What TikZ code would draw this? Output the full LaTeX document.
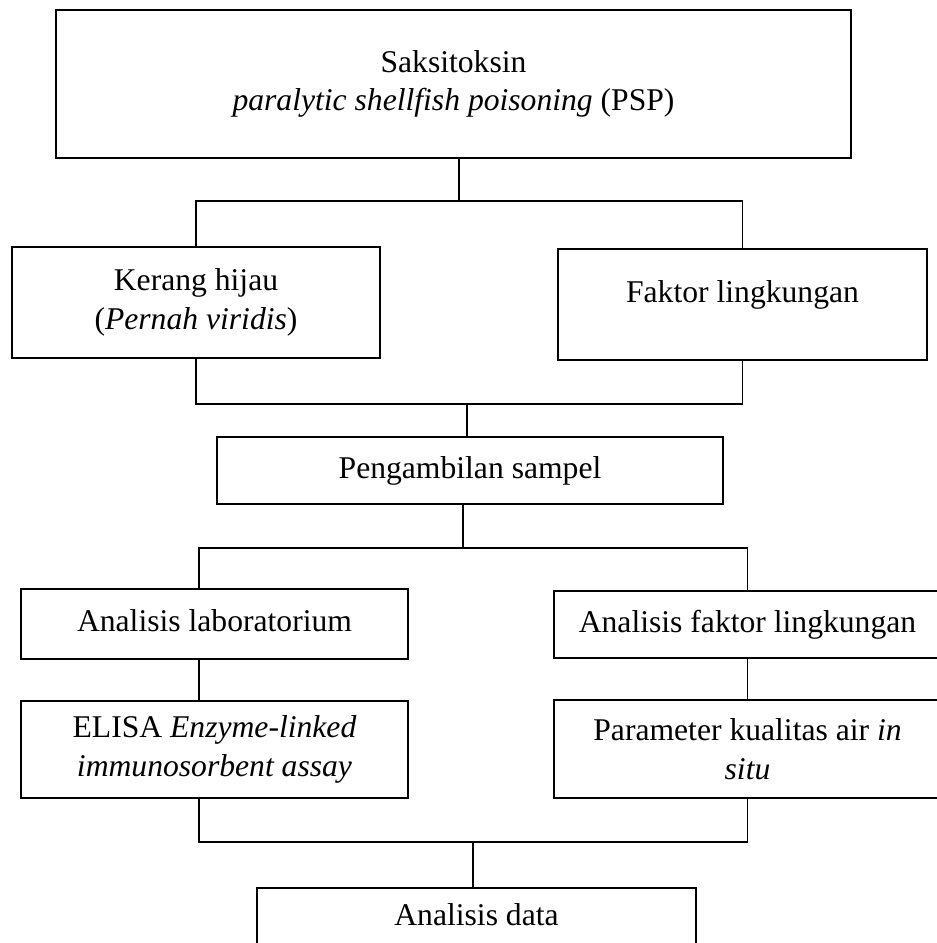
\documentclass[tikz,border=0pt]{standalone}
\usepackage{fontspec}
\setmainfont{Liberation Serif}

\begin{document}
\begin{tikzpicture}[
    box/.style={draw, line width=0.8pt, align=center, inner sep=0pt, font=\fontsize{18}{22}\selectfont},
    oneline/.style={text height=0.44cm, text depth=0.14cm},
    link/.style={line width=0.6pt}
]
    \useasboundingbox (0,0) rectangle (18.72,-18.86);

    % Draw the top box
    \node[box, minimum width=15.9cm, minimum height=2.96cm] (saksi) at (9.07,-1.68) {Saksitoksin\\\textit{paralytic shellfish poisoning} (PSP)};

    % Add the two boxes of the second row
    \node[box, minimum width=7.36cm, minimum height=2.22cm] (kerang) at (3.92,-6.05) {Kerang hijau\\(\textit{Pernah viridis})};
    \node[box, minimum width=7.38cm, minimum height=2.22cm, text height=0.44cm, text depth=0.50cm] (faktor) at (14.85,-6.09) {Faktor lingkungan};

    % Add the sampling box
    \node[box, oneline, minimum width=10.12cm, minimum height=1.34cm] (sampel) at (9.40,-9.41) {Pengambilan sampel};

    % Add the analysis boxes
    \node[box, oneline, minimum width=7.74cm, minimum height=1.40cm] (lab) at (4.29,-12.48) {Analisis laboratorium};
    \node[box, oneline, minimum width=7.74cm, minimum height=1.34cm] (lingk) at (14.95,-12.49) {Analisis faktor lingkungan};
    \node[box, minimum width=7.74cm, minimum height=1.94cm] (elisa) at (4.29,-14.99) {ELISA \textit{Enzyme-linked}\\\textit{immunosorbent assay}};
    \node[box, minimum width=7.74cm, minimum height=1.96cm] (param) at (14.95,-14.98) {Parameter kualitas air \textit{in}\\\textit{situ}};

    % Add the last box
    \node[box, oneline, minimum width=8.78cm, minimum height=1.18cm] (data) at (9.53,-18.35) {Analisis data};

    % Points where the lines split and join
    \coordinate (split1) at (9.18,-4.02);
    \coordinate (join1) at (9.34,-8.08);
    \coordinate (split2) at (9.26,-10.96);
    \coordinate (left2) at (3.98,-10.96);
    \coordinate (join2) at (9.46,-16.84);

    % Draw the connecting lines
    \draw[link] (saksi.south -| split1) -- (split1);
    \draw[link] (kerang.north) |- (split1) -| (faktor.north);
    \draw[link] (kerang.south) |- (join1) -| (faktor.south);
    \draw[link] (join1) -- (join1 |- sampel.north);
    \draw[link] (sampel.south -| split2) -- (split2);
    \draw[link] (left2 |- lab.north) |- (split2) -| (lingk.north);
    \draw[link] (lab.south -| left2) -- (elisa.north -| left2);
    \draw[link] (lingk.south) -- (param.north);
    \draw[link] (elisa.south -| left2) |- (join2) -| (param.south);
    \draw[link] (join2) -- (join2 |- data.north);
\end{tikzpicture}
\end{document}
